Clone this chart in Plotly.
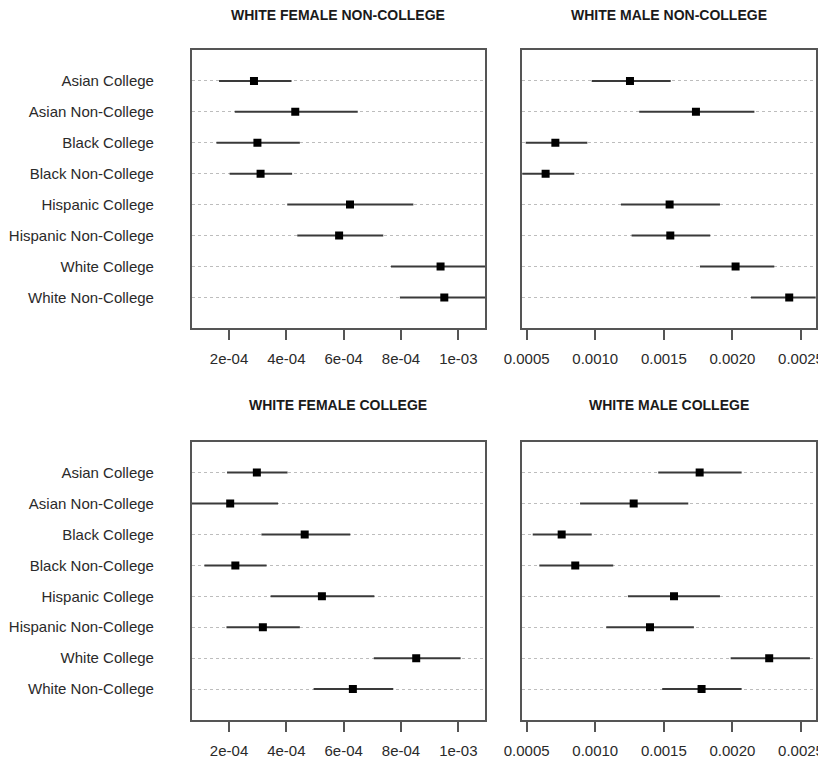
import plotly.graph_objects as go

categories = ["Asian College", "Asian Non-College", "Black College", "Black Non-College",
              "Hispanic College", "Hispanic Non-College", "White College", "White Non-College"]

panel_titles = ["WHITE FEMALE NON-COLLEGE", "WHITE MALE NON-COLLEGE",
                "WHITE FEMALE COLLEGE", "WHITE MALE COLLEGE"]

wf_nc_est = [2.87e-4, 4.31e-4, 2.99e-4, 3.10e-4, 6.22e-4, 5.84e-4, 9.38e-4, 9.51e-4]
wf_nc_lo = [1.65e-4, 2.20e-4, 1.56e-4, 2.02e-4, 4.03e-4, 4.38e-4, 7.65e-4, 7.96e-4]
wf_nc_hi = [4.18e-4, 6.49e-4, 4.47e-4, 4.20e-4, 8.43e-4, 7.38e-4, 1.15e-3, 1.12e-3]

wm_nc_est = [0.001253, 0.001734, 0.000709, 0.000638, 0.001542, 0.001547, 0.002023, 0.002414]
wm_nc_lo = [0.000974, 0.001320, 0.000493, 0.000430, 0.001187, 0.001265, 0.001763, 0.002135]
wm_nc_hi = [0.001550, 0.002160, 0.000942, 0.000847, 0.001909, 0.001838, 0.002305, 0.002700]

wf_c_est = [2.97e-4, 2.04e-4, 4.64e-4, 2.22e-4, 5.24e-4, 3.18e-4, 8.53e-4, 6.32e-4]
wf_c_lo = [1.93e-4, 0.50e-4, 3.13e-4, 1.14e-4, 3.45e-4, 1.91e-4, 7.05e-4, 4.95e-4]
wf_c_hi = [4.04e-4, 3.71e-4, 6.23e-4, 3.31e-4, 7.07e-4, 4.47e-4, 10.08e-4, 7.73e-4]

wm_c_est = [0.001761, 0.001280, 0.000755, 0.000854, 0.001574, 0.001399, 0.002268, 0.001775]
wm_c_lo = [0.001459, 0.000889, 0.000544, 0.000592, 0.001238, 0.001080, 0.001987, 0.001488]
wm_c_hi = [0.002067, 0.001678, 0.000974, 0.001131, 0.001909, 0.001719, 0.002565, 0.002067]

female_ticks = [2e-4, 4e-4, 6e-4, 8e-4, 1e-3]
female_ticktext = ["2e-04", "4e-04", "6e-04", "8e-04", "1e-03"]
male_ticks = [0.0005, 0.0010, 0.0015, 0.0020, 0.0025]
male_ticktext = ["0.0005", "0.0010", "0.0015", "0.0020", "0.0025"]

panels = [
    (wf_nc_est, wf_nc_lo, wf_nc_hi),
    (wm_nc_est, wm_nc_lo, wm_nc_hi),
    (wf_c_est, wf_c_lo, wf_c_hi),
    (wm_c_est, wm_c_lo, wm_c_hi),
]

OFF = 8.0  # page body margin
W, H = int(826 - OFF), int(759 - OFF)


def fx(px):
    return (px - OFF) / W


def fy(py):
    return 1 - (py - OFF) / H


left_dom = [fx(191.7), fx(485.0)]
right_dom = [fx(522.3), fx(815.7)]
top_dom = [fy(328.3), fy(50.0)]
bot_dom = [fy(720.0), fy(441.7)]

female_range = [0.697e-4, 10.93e-4]
male_range = [0.000468, 0.002607]

font_family = "Liberation Sans, Arial, sans-serif"
line_col = "#555555"
text_col = "#2a2a2a"
rows = list(range(1, len(categories) + 1))

fig = go.Figure()

for k, (est, lo, hi) in enumerate(panels):
    ax = "" if k == 0 else str(k + 1)
    xs, ys = [], []
    for i, r in enumerate(rows):
        xs += [lo[i], hi[i], None]
        ys += [r, r, None]
    fig.add_trace(go.Scatter(x=xs, y=ys, mode="lines",
                             line=dict(color="#3a3a3a", width=2),
                             xaxis="x" + ax, yaxis="y" + ax,
                             showlegend=False, hoverinfo="skip"))
    fig.add_trace(go.Scatter(x=est, y=rows, mode="markers",
                             marker=dict(symbol="square", size=8, color="black"),
                             xaxis="x" + ax, yaxis="y" + ax,
                             showlegend=False))

layout = dict(
    width=W, height=H, autosize=False,
    margin=dict(l=0, r=0, t=0, b=0, pad=0, autoexpand=False),
    paper_bgcolor="white", plot_bgcolor="white",
    font=dict(family=font_family, size=15, color=text_col),
)

for k in range(4):
    ax = "" if k == 0 else str(k + 1)
    is_left = k % 2 == 0
    is_top = k < 2
    xdom = left_dom if is_left else right_dom
    ydom = top_dom if is_top else bot_dom
    layout["xaxis" + ax] = dict(
        domain=xdom, anchor="y" + ax, automargin=False,
        range=female_range if is_left else male_range,
        tickvals=female_ticks if is_left else male_ticks,
        ticktext=female_ticktext if is_left else male_ticktext,
        ticks="outside", ticklen=10, tickwidth=1.5, tickcolor=line_col,
        ticklabelstandoff=6, ticklabeloverflow="allow",
        showline=True, linecolor=line_col, linewidth=1.5, mirror=True,
        showgrid=False, zeroline=False,
        tickfont=dict(size=15, color=text_col),
    )
    layout["yaxis" + ax] = dict(
        domain=ydom, anchor="x" + ax, automargin=False,
        range=[len(categories) + 1, 0],
        tickvals=rows,
        ticktext=categories if is_left else [""] * len(categories),
        showticklabels=is_left,
        ticks="", ticklabelstandoff=33,
        showline=True, linecolor=line_col, linewidth=1.5, mirror=True,
        showgrid=True, gridcolor="#bdbdbd", griddash="dot", gridwidth=1,
        zeroline=False,
        tickfont=dict(size=15, color=text_col),
    )

annotations = []
for k, t in enumerate(panel_titles):
    is_left = k % 2 == 0
    is_top = k < 2
    xdom = left_dom if is_left else right_dom
    annotations.append(dict(
        text="<b>" + t + "</b>", xref="paper", yref="paper",
        x=(xdom[0] + xdom[1]) / 2, y=fy(15) if is_top else fy(405),
        xanchor="center", yanchor="middle", showarrow=False,
        font=dict(family=font_family, size=14, color="#1a1a1a"),
    ))
layout["annotations"] = annotations

fig.update_layout(**layout)
fig.write_html("out.html")
